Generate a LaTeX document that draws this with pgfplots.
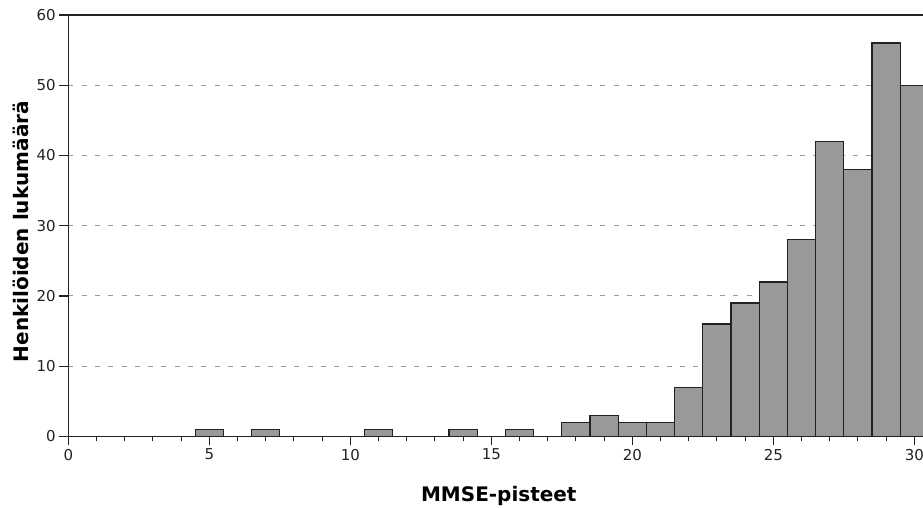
\documentclass[border=0pt]{standalone}
\usepackage{fontspec}
\setmainfont{DejaVu Sans}
\usepackage{pgfplots}
\pgfplotsset{compat=1.18}
\definecolor{barfill}{HTML}{999999}
\definecolor{gridc}{HTML}{9A9A9A}
\definecolor{axc}{HTML}{222222}
\begin{document}
\begin{tikzpicture}
\begin{axis}[
  at={(0,0)}, anchor=south west,
  scale only axis, width=855.9pt, height=421.5pt,
  xmin=0, xmax=30.35, ymin=0, ymax=60,
  xtick={0,5,...,30}, ytick={0,10,...,60},
  minor x tick num=4,
  xtick pos=left, ytick pos=left,
  tick align=outside,
  major tick length=9pt, minor tick length=5pt,
  tick style={line width=1.1pt, color=axc},
  axis line style={line width=1.3pt, axc},
  ymajorgrids,
  grid style={gridc, dash pattern=on 5pt off 8.3pt, line width=1pt},
  tick label style={font=\fontsize{15}{17}\selectfont, text=axc},
  /pgf/number format/assume math mode=true,
  xlabel={MMSE-pisteet}, ylabel={Henkilöiden lukumäärä},
  label style={font=\bfseries\fontsize{20}{24}\selectfont},
  xlabel style={at={(axis description cs:0.503,-0.1542)}, anchor=base},
  ylabel style={at={(axis description cs:-0.0467,0.486)}, anchor=base},
]
\addplot[ybar, bar width=1, fill=barfill, draw=axc, line width=1.2pt] coordinates {
  (5,1) (7,1) (11,1) (14,1) (16,1) (18,2) (19,3) (20,2) (21,2) (22,7)
  (23,16) (24,19) (25,22) (26,28) (27,42) (28,38) (29,56) (30,50)
};
\end{axis}
\pgfresetboundingbox
\path[use as bounding box] (-68.3pt,-71.5pt) rectangle (854.7pt,436.5pt);
\end{tikzpicture}
\end{document}
